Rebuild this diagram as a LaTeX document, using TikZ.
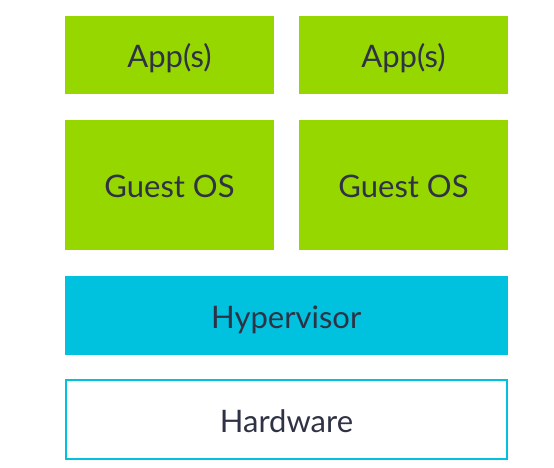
\documentclass[tikz,border=0pt]{standalone}
\usepackage{fontspec}
\setmainfont{Lato}
\usepackage{xcolor}
\definecolor{layergreen}{RGB}{151,215,0}
\definecolor{layercyan}{RGB}{0,193,222}
\definecolor{layertext}{RGB}{46,50,68}

\begin{document}
\begin{tikzpicture}[x=1pt,y=-1pt]
            \tikzset{
            vm box/.style={fill=layergreen,draw=none,minimum width=209pt,inner sep=0,text height=25pt,text depth=0pt,text=layertext,font=\fontsize{31}{36}\selectfont},
            host box/.style={minimum width=443pt,minimum height=79pt,inner sep=0,text height=25pt,text depth=0pt,text=layertext,font=\fontsize{31}{36}\selectfont}
            }
            \useasboundingbox (0,0) rectangle (554,468);
            \node[vm box,minimum height=78.5pt] (app1) at (169.5, 55.25) {App(s)};
            \node[vm box,minimum height=78.5pt] (app2) at (403.5, 55.25) {App(s)};
            \node[vm box,minimum height=130pt] (os1) at (169.5, 185) {Guest OS};
            \node[vm box,minimum height=130pt] (os2) at (403.5, 185) {Guest OS};
            \node[host box,fill=layercyan] (hyp) at (286.25, 315.5) {Hypervisor};
            \node[host box,draw=layercyan,line width=2pt,minimum width=441pt] (hw) at (286.5, 419.5) {Hardware};
        \end{tikzpicture}
\end{document}
